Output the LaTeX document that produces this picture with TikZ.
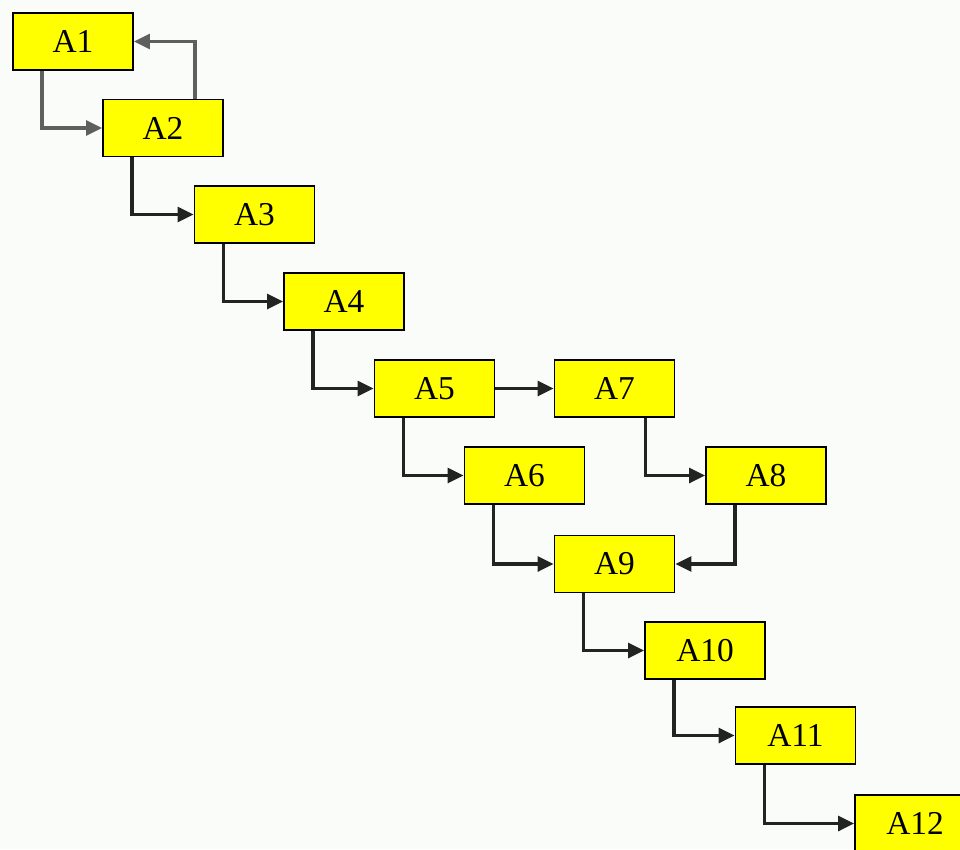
\documentclass[tikz,border=0pt]{standalone}
\usepackage{fontspec}
\setmainfont{Liberation Serif}
\usetikzlibrary{arrows.meta}
\definecolor{boxyellow}{RGB}{255,255,0}
\definecolor{bgwhite}{RGB}{250,252,250}
\definecolor{linedark}{RGB}{35,35,35}
\definecolor{linegrey}{RGB}{95,95,95}

\begin{document}
\begin{tikzpicture}
			[x=0.02cm,y=-0.02cm,
			 every node/.style={rectangle,draw=black,line width=1.1pt,fill=boxyellow,minimum width=2.4cm,minimum height=1.14cm,inner sep=0pt,font=\fontsize{19}{22}\selectfont},
			 link/.style={draw=linedark,line width=1.8pt,-{Triangle[length=0.32cm,width=0.3cm]}}]
			\clip (0,0) rectangle (960,849);
			\fill[bgwhite] (0,0) rectangle (960,849);
			\node (a1) at (73,41.5)    {A1};
			\node (a2) at (163,128)    {A2};
			\node (a3) at (254.5,214.5) {A3};
			\node (a4) at (344,301.5)  {A4};
			\node (a5) at (434.5,388.5) {A5};
			\node (a7) at (614.5,388.5) {A7};
			\node (a6) at (524.5,475.5) {A6};
			\node (a8) at (766,475.5)  {A8};
			\node (a9) at (614.5,564)  {A9};
			\node (a10) at (705,650.5) {A10};
			\node (a11) at (795.5,735.5) {A11};
			\node (a12) at (915,823.5) {A12};
			
			\foreach \from/\to in {a2/a3,a3/a4,a4/a5,a5/a6,a6/a9,a8/a9,a9/a10,a10/a11,a11/a12}
			\draw[link] ([xshift=0.6cm]\from.south west) |- (\to);
			\draw[link] ([xshift=-0.6cm]a7.south east) |- (a8);
			\draw[link,draw=linegrey] ([xshift=0.6cm]a1.south west) |- (a2);
			\draw[link,draw=linegrey] ([xshift=-0.58cm]a2.north east) |- (a1);
			\draw[link] (a5) -- (a7);
			\end{tikzpicture}
\end{document}
